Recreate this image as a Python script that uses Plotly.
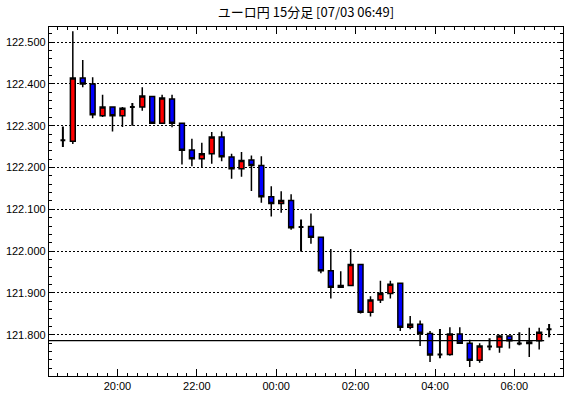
import plotly.graph_objects as go
import pandas as pd

# 15-minute candles, start times (EUR/JPY)
start_time = "2024-07-02 18:30"
n_candles = 50
times = pd.date_range(start_time, periods=n_candles, freq="15min")

opens = [122.265, 122.263, 122.414, 122.400, 122.324, 122.345, 122.324, 122.345, 122.345, 122.370,
         122.306, 122.364, 122.306, 122.242, 122.221, 122.233, 122.273, 122.225, 122.197, 122.218,
         122.205, 122.130, 122.114, 122.121, 122.058, 122.059, 122.033, 121.953, 121.914, 121.918,
         121.968, 121.854, 121.883, 121.899, 121.923, 121.818, 121.825, 121.803, 121.753, 121.753,
         121.802, 121.780, 121.739, 121.772, 121.771, 121.797, 121.779, 121.779, 121.786, 121.813]
highs = [122.298, 122.526, 122.457, 122.416, 122.374, 122.345, 122.345, 122.354, 122.392, 122.370,
         122.374, 122.374, 122.306, 122.269, 122.259, 122.285, 122.286, 122.233, 122.237, 122.229,
         122.227, 122.155, 122.143, 122.136, 122.076, 122.090, 122.033, 122.005, 121.952, 122.005,
         121.968, 121.892, 121.929, 121.929, 121.923, 121.845, 121.834, 121.809, 121.814, 121.818,
         121.818, 121.788, 121.780, 121.792, 121.800, 121.797, 121.806, 121.817, 121.817, 121.826]
lows = [122.249, 122.256, 122.392, 122.318, 122.321, 122.286, 122.297, 122.300, 122.336, 122.306,
        122.306, 122.296, 122.207, 122.203, 122.199, 122.209, 122.215, 122.173, 122.178, 122.144,
        122.116, 122.083, 122.092, 122.051, 121.999, 122.018, 121.947, 121.887, 121.914, 121.918,
        121.851, 121.844, 121.876, 121.887, 121.809, 121.813, 121.773, 121.735, 121.744, 121.750,
        121.780, 121.723, 121.733, 121.763, 121.757, 121.767, 121.775, 121.747, 121.765, 121.794]
closes = [122.265, 122.414, 122.400, 122.326, 122.345, 122.324, 122.342, 122.345, 122.371, 122.306,
          122.366, 122.306, 122.241, 122.221, 122.233, 122.273, 122.226, 122.197, 122.217, 122.205,
          122.130, 122.114, 122.121, 122.056, 122.058, 122.033, 121.953, 121.914, 121.918, 121.968,
          121.854, 121.883, 121.899, 121.921, 121.818, 121.825, 121.804, 121.752, 121.753, 121.802,
          121.780, 121.739, 121.773, 121.772, 121.797, 121.786, 121.779, 121.783, 121.806, 121.813]

ref_price = 121.786
ref_line_end = "2024-07-03 06:45"
x_range = ["2024-07-02 18:16:30", "2024-07-03 07:13:30"]
y_range = [121.7015, 122.536]
title_text = "ユーロ円 15分足 [07/03 06:49]"

centers = times + pd.Timedelta(minutes=7.5)
is_doji = [o == c for o, c in zip(opens, closes)]


def pick(seq, want):
    return [v for v, d in zip(seq, is_doji) if d == want]


fig = go.Figure()
fig.add_trace(go.Candlestick(
    x=pick(list(centers), False), open=pick(opens, False), high=pick(highs, False),
    low=pick(lows, False), close=pick(closes, False),
    increasing=dict(fillcolor="#ff0000", line=dict(color="black", width=1.5)),
    decreasing=dict(fillcolor="#0000ff", line=dict(color="black", width=1.5)),
    whiskerwidth=0, hoverinfo="skip", showlegend=False,
))
fig.add_trace(go.Candlestick(
    x=pick(list(centers), True), open=pick(opens, True), high=pick(highs, True),
    low=pick(lows, True), close=pick(closes, True),
    increasing=dict(fillcolor="black", line=dict(color="black", width=2)),
    decreasing=dict(fillcolor="black", line=dict(color="black", width=2)),
    whiskerwidth=0, hoverinfo="skip", showlegend=False,
))

fig.add_shape(type="line", xref="x", yref="y", x0=x_range[0], x1=ref_line_end,
              y0=ref_price, y1=ref_price, line=dict(color="black", width=1.3))

tick_font = dict(family="Liberation Sans, Arial, sans-serif", size=11, color="black")

fig.update_layout(
    width=570, height=398,
    margin=dict(l=46, r=6, t=27, b=20),
    paper_bgcolor="white", plot_bgcolor="white",
    showlegend=False,
    title=dict(text=title_text, x=0.5, xref="paper", xanchor="center",
               y=1 - 12 / 398, yref="container", yanchor="middle",
               font=dict(family="Noto Sans CJK JP", size=13, color="black")),
    xaxis=dict(
        type="date", range=x_range, rangeslider=dict(visible=False),
        showline=True, linecolor="black", linewidth=1.3, mirror="ticks",
        ticks="inside", ticklen=7, tickcolor="black",
        tick0="2024-07-02 00:00", dtick=2 * 3600 * 1000, tickformat="%H:%M",
        showgrid=False, zeroline=False, tickfont=tick_font,
        minor=dict(ticks="inside", ticklen=3, tickcolor="black",
                   tick0="2024-07-02 00:00", dtick=15 * 60 * 1000, showgrid=False),
    ),
    yaxis=dict(
        range=y_range, dtick=0.1, tick0=121.7, tickformat=".3f",
        showline=True, linecolor="black", linewidth=1.3, mirror="ticks",
        ticks="inside", ticklen=5, tickcolor="black",
        showgrid=True, gridcolor="black", griddash="2px,2px", gridwidth=1,
        zeroline=False, tickfont=tick_font,
        minor=dict(ticks="inside", ticklen=3, tickcolor="black", dtick=0.02, showgrid=False),
    ),
)

fig.write_html("out.html")
